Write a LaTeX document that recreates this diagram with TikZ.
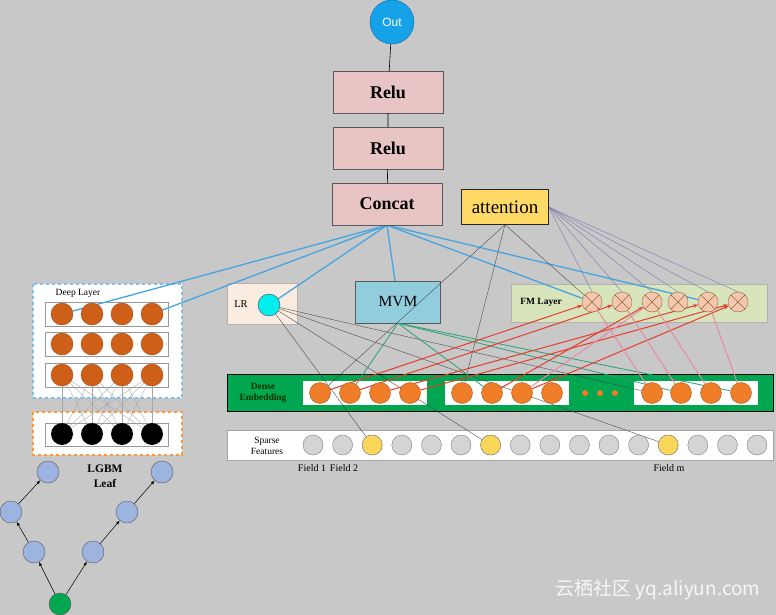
\documentclass[tikz,border=0pt]{standalone}
\usepackage{fontspec}
\setmainfont{Liberation Serif}
\newfontfamily\cjkfont{Noto Sans CJK SC}
\newfontfamily\outfont{Liberation Sans}
\usetikzlibrary{arrows.meta}

\definecolor{bgray}{RGB}{200,200,200}
\definecolor{outblue}{RGB}{22,162,232}
\definecolor{relupink}{RGB}{233,196,196}
\definecolor{attyellow}{RGB}{255,217,102}
\definecolor{lrpeach}{RGB}{250,236,224}
\definecolor{lrcyan}{RGB}{0,238,238}
\definecolor{mvmblue}{RGB}{146,205,222}
\definecolor{fmgreen}{RGB}{216,228,188}
\definecolor{fmpeach}{RGB}{244,200,176}
\definecolor{densegreen}{RGB}{0,166,80}
\definecolor{embo}{RGB}{240,125,40}
\definecolor{deepo}{RGB}{205,95,25}
\definecolor{sgray}{RGB}{212,212,212}
\definecolor{syellow}{RGB}{250,215,90}
\definecolor{treeblue}{RGB}{157,180,224}
\definecolor{wireblue}{RGB}{70,165,225}
\definecolor{wirered}{RGB}{232,60,40}
\definecolor{wirepink}{RGB}{230,140,160}
\definecolor{wiregreen}{RGB}{40,160,120}
\definecolor{wirepurple}{RGB}{120,110,170}

\pgfdeclarelayer{bg}
\pgfdeclarelayer{wires}
\pgfsetlayers{bg,wires,main}

\tikzset{
  layerbox/.style={draw=gray!70!black, fill=relupink, minimum width=110pt,
    minimum height=42pt, font=\fontsize{18}{20}\selectfont\bfseries},
  deepc/.style={circle, draw=deepo!80!black, fill=deepo, minimum size=22pt, inner sep=0pt},
  leafc/.style={circle, fill=black, minimum size=22pt, inner sep=0pt},
  embc/.style={circle, draw=embo!70!black, fill=embo, minimum size=21pt, inner sep=0pt},
  sparsec/.style={circle, draw=gray, fill=sgray, minimum size=20pt, inner sep=0pt},
  fmc/.style={circle, draw=brown!80!black, fill=fmpeach, minimum size=20pt, inner sep=0pt,
    path picture={\draw[brown!80!black]
      ([shift={(-7pt,-7pt)}]path picture bounding box.center) -- ([shift={(7pt,7pt)}]path picture bounding box.center)
      ([shift={(-7pt,7pt)}]path picture bounding box.center) -- ([shift={(7pt,-7pt)}]path picture bounding box.center);}},
  treec/.style={circle, draw=gray!70!black, fill=treeblue, minimum size=22pt, inner sep=0pt},
  rowbox/.style={draw=gray!80, fill=white},
  thinw/.style={draw=gray!50!black, line width=0.35pt},
  crossw/.style={draw=gray!70, line width=0.35pt},
  bluew/.style={draw=wireblue, line width=1.3pt},
  redw/.style={draw=wirered, line width=1pt, -{Stealth[length=5pt]}},
  pinkw/.style={draw=wirepink, line width=1pt},
  greenw/.style={draw=wiregreen, line width=0.8pt},
  fanw/.style={draw=wirepurple, line width=0.35pt},
  treew/.style={draw=black, line width=0.5pt, -{Latex[length=4pt]}},
  smalltext/.style={font=\fontsize{9.5}{11}\selectfont}
}

\begin{document}
\begin{tikzpicture}[x=1pt,y=-1pt]
\useasboundingbox (0,0) rectangle (776,615);

\begin{pgfonlayer}{bg}
  \fill[bgray] (0,0) rectangle (776,615);
  % deep layer and lgbm boxes
  \draw[draw=wireblue!70, fill=white, line width=1.2pt, dashed] (33,284) rectangle (182,398);
  \foreach \y in {314,344,375}
    \draw[rowbox] (45,\y-12) rectangle (168,\y+12);
  \draw[draw=orange!80, fill=white, line width=1.2pt, dashed] (33,412) rectangle (182,455);
  \draw[rowbox] (45,423) rectangle (168,446);
  % lr, fm, dense, sparse
  \draw[draw=gray!60, fill=lrpeach] (227,283) rectangle (297,324);
  \node[draw=gray!70!black, fill=mvmblue, minimum width=85pt, minimum height=42pt,
    font=\fontsize{15.5}{17}\selectfont] (mvm) at (398,302) {MVM};
  \draw[draw=gray!60, fill=fmgreen] (511,284) rectangle (767,322);
  \draw[draw=black, fill=densegreen] (227,374) rectangle (773,411);
  \draw[fill=white, draw=none] (303,381) rectangle (427,405);
  \draw[fill=white, draw=none] (445,381) rectangle (569,405);
  \draw[fill=white, draw=none] (634,381) rectangle (758,405);
  \draw[draw=gray!70, fill=white] (227,430) rectangle (773,460);
\end{pgfonlayer}

% top column
\node[circle, draw=outblue!70!black, fill=outblue, minimum size=44pt, inner sep=0pt,
  text=white, font=\outfont\fontsize{12}{14}\selectfont] (out) at (392,22) {Out};
\node[layerbox] (relu1) at (388,92) {Relu};
\node[layerbox] (relu2) at (388,148) {Relu};
\node[layerbox] (concat) at (387,204) {Concat};
\node[draw=gray!30!black, fill=attyellow, minimum width=87pt, minimum height=35pt,
  font=\fontsize{19}{21}\selectfont] (attn) at (505,207) {attention};
\draw[line width=0.6pt] (out) -- (relu1) -- (relu2) -- (concat);

% deep part
\node[smalltext] (deeplbl) at (78,293) {Deep Layer};
\foreach \y [count=\i] in {314,344,375}
  \foreach \x [count=\j] in {62,92,122,152}
    \node[deepc] (d\i\j) at (\x,\y) {};
\foreach \x [count=\j] in {62,92,122,152}
  \node[leafc] (lf\j) at (\x,434) {};
\begin{pgfonlayer}{wires}
  \foreach \a in {1,...,4}
    \foreach \b in {1,...,4}
      \draw[crossw] (d3\a) -- (lf\b);
\end{pgfonlayer}
\node[align=center, font=\fontsize{11.5}{15}\selectfont\bfseries] (leaflbl) at (105,476) {LGBM\\Leaf};

% tree
\node[circle, draw=gray!70!black, fill=densegreen, minimum size=22pt, inner sep=0pt] (root) at (60,604) {};
\node[treec] (l1) at (34,552) {};
\node[treec] (l2) at (11,512) {};
\node[treec] (l3) at (48,472) {};
\node[treec] (r1) at (93,552) {};
\node[treec] (r2) at (127,512) {};
\node[treec] (r3) at (162,472) {};
\draw[treew] (root) -- (l1);
\draw[treew] (l1) -- (l2);
\draw[treew] (l2) -- (l3);
\draw[treew] (root) -- (r1);
\draw[treew] (r1) -- (r2);
\draw[treew] (r2) -- (r3);

% lr and fm
\node[font=\fontsize{10.5}{12}\selectfont] (lrlbl) at (241,304) {LR};
\node[circle, draw=gray!60!black, fill=lrcyan, minimum size=22pt, inner sep=0pt] (lr) at (269,305) {};
\node[font=\fontsize{9.5}{11}\selectfont\bfseries] (fmlbl) at (541,302) {FM Layer};
\foreach \x [count=\i] in {592,622,652,678,708,738}
  \node[fmc] (fm\i) at (\x,302) {};

% dense embedding
\node[align=center, text=green!20!black, font=\fontsize{9.5}{11}\selectfont\bfseries] (denselbl) at (263,393) {Dense\\Embedding};
\foreach \x [count=\i] in {320,350,380,410,462,492,522,552,652,681,711,741}
  \node[embc] (e\i) at (\x,393) {};
\foreach \x in {585,600,615}
  \fill[embo] (\x,393) circle (3pt);

% sparse features
\node[align=center, smalltext] (sparselbl) at (267,446) {Sparse\\Features};
\foreach \i in {1,...,16}
  \node[sparsec] (s\i) at ({313+29.6*(\i-1)},445) {};
\foreach \i in {3,7,13}
  \node[sparsec, fill=syellow] (s\i) at ({313+29.6*(\i-1)},445) {};
\node[font=\fontsize{10}{12}\selectfont] at (312,468) {Field 1};
\node[font=\fontsize{10}{12}\selectfont] at (344,468) {Field 2};
\node[font=\fontsize{10}{12}\selectfont] at (669,468) {Field m};

\begin{pgfonlayer}{wires}
  % concat inputs
  \foreach \t in {d11,d14,lr,mvm,fm1,fm5}
    \draw[bluew] (concat.south) -- (\t);
  % attention
  \draw[thinw] (attn.south) -- (e1);
  \draw[thinw] (attn.south) -- (e5);
  \draw[thinw] (attn.south) -- (fm1);
  \foreach \i in {1,...,6}
    \draw[fanw] (attn.east) -- (fm\i.north);
  % lr
  \foreach \t in {s3,s7,s13,e9}
    \draw[thinw] (lr) -- (\t);
  % mvm
  \foreach \t in {e2,e6,e10,e12}
    \draw[greenw] (mvm.south) -- (\t);
  % fm pairs
  \draw[redw] (e1) -- (fm1);
  \draw[redw] (e2) -- (fm2);
  \draw[redw] (e3) -- (fm5);
  \draw[redw] (e4) -- (fm6);
  \draw[redw] (e6) -- (fm3);
  \draw[redw] (e7) -- (fm6);
  \draw[pinkw] (fm1) -- (e9);
  \draw[pinkw] (fm2) -- (e10);
  \draw[pinkw] (fm3) -- (e11);
  \draw[pinkw] (fm5) -- (e12);
  \draw[pinkw] (fm3) -- (e7);
\end{pgfonlayer}

% watermark
\node[anchor=east, text=white, opacity=0.85, font=\cjkfont\fontsize{19}{21}\selectfont] (mark) at (764,590) {云栖社区 yq.aliyun.com};
\end{tikzpicture}
\end{document}
